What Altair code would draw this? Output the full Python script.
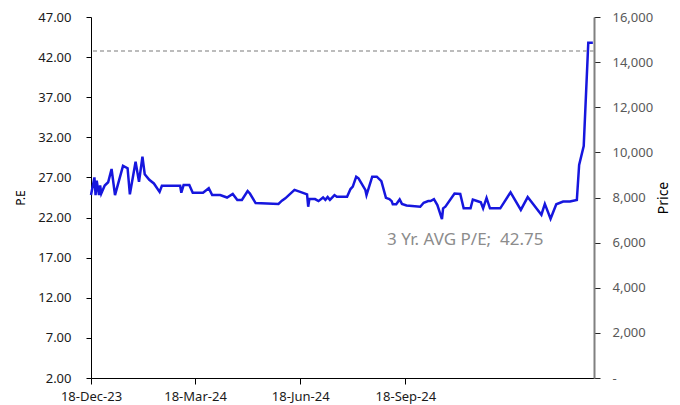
import altair as alt
import pandas as pd

# ---- data ----
dates = [
    "2023-12-18", "2023-12-21", "2023-12-22", "2023-12-23", "2023-12-25", "2023-12-26",
    "2023-12-27", "2023-12-30", "2024-01-02", "2024-01-05", "2024-01-08", "2024-01-15",
    "2024-01-19", "2024-01-21", "2024-01-26", "2024-01-29", "2024-02-01", "2024-02-03",
    "2024-02-07", "2024-02-11", "2024-02-16", "2024-02-18", "2024-03-05", "2024-03-06",
    "2024-03-08", "2024-03-13", "2024-03-16", "2024-03-25", "2024-03-30", "2024-04-02",
    "2024-04-09", "2024-04-15", "2024-04-20", "2024-04-24", "2024-04-28", "2024-05-03",
    "2024-05-05", "2024-05-10", "2024-05-30", "2024-06-02", "2024-06-05", "2024-06-13",
    "2024-06-18", "2024-06-24", "2024-06-25", "2024-06-26", "2024-07-01", "2024-07-04",
    "2024-07-08", "2024-07-10", "2024-07-12", "2024-07-14", "2024-07-18", "2024-07-20",
    "2024-07-29", "2024-08-01", "2024-08-03", "2024-08-06", "2024-08-08", "2024-08-14",
    "2024-08-15", "2024-08-20", "2024-08-24", "2024-08-28", "2024-09-01", "2024-09-04",
    "2024-09-06", "2024-09-07", "2024-09-10", "2024-09-13", "2024-09-15", "2024-09-19",
    "2024-10-01", "2024-10-04", "2024-10-08", "2024-10-10", "2024-10-13", "2024-10-16",
    "2024-10-20", "2024-10-21", "2024-10-23", "2024-10-31", "2024-11-05", "2024-11-08",
    "2024-11-14", "2024-11-16", "2024-11-19", "2024-11-23", "2024-11-25", "2024-11-28",
    "2024-12-01", "2024-12-10", "2024-12-19", "2024-12-28", "2025-01-03", "2025-01-15",
    "2025-01-18", "2025-01-23", "2025-01-28", "2025-02-03", "2025-02-09", "2025-02-15",
    "2025-02-17", "2025-02-21", "2025-02-25", "2025-03-01",
]
pe = [
    24.8, 27.0, 24.8, 26.6, 24.8, 26.0,
    25.0, 26.0, 26.4, 28.05, 24.8, 28.45,
    28.15, 24.9, 28.95, 26.45, 29.6, 27.4,
    26.7, 26.25, 25.2, 25.95, 25.95, 25.1,
    26.05, 26.05, 25.1, 25.1, 25.65, 24.8,
    24.8, 24.5, 24.95, 24.2, 24.2, 25.3,
    25.0, 23.8, 23.7, 24.1, 24.4, 25.45,
    25.2, 24.9, 23.35, 24.3, 24.3, 24.05,
    24.5, 24.2, 24.55, 24.2, 24.8, 24.6,
    24.6, 25.55, 25.85, 27.1, 26.9, 25.45,
    24.8, 27.1, 27.1, 26.55, 24.45, 24.3,
    24.05, 23.65, 23.65, 24.25, 23.7, 23.5,
    23.35, 23.85, 24.05, 24.05, 24.3, 23.55,
    21.8, 23.15, 23.35, 25.0, 24.95, 23.15,
    23.15, 24.25, 24.1, 23.9, 23.15, 24.45,
    23.15, 23.15, 25.15, 22.95, 24.55, 22.35,
    23.7, 21.85, 23.65, 24.0, 24.0, 24.2,
    28.55, 30.9, 43.8, 43.8,
]
AVG_PE = 42.75
annotation = "3 Yr. AVG P/E;\u00a0\u00a042.75"
pe_ticks = [2, 7, 12, 17, 22, 27, 32, 37, 42, 47]
price_ticks = [0, 2000, 4000, 6000, 8000, 10000, 12000, 14000, 16000]
x_tick_dates = ["2023-12-18", "2024-03-18", "2024-06-18", "2024-09-18"]
x_domain = ["2023-12-18", "2025-03-02"]


def ms(s):
    return int(pd.Timestamp(s, tz="UTC").value // 10**6)


df = pd.DataFrame({"date": dates, "pe": pe})
one = pd.DataFrame({"avg": [AVG_PE], "label": [annotation]})

FONT = "Noto Sans"

x_enc = alt.X(
    "date:T",
    scale=alt.Scale(type="utc", domain=[ms(d) for d in x_domain], nice=False),
    axis=alt.Axis(
        values=[ms(d) for d in x_tick_dates],
        labelExpr="utcFormat(datum.value, '%d-%b-%y')",
        title=None, grid=False, tickSize=6, tickColor="#000000",
        domainColor="#000000", labelFont=FONT, labelFontSize=13,
        labelColor="#1a1a1a", labelPadding=6, labelFlush=False, labelOverlap=False,
    ),
)

line = alt.Chart(df).mark_line(color="#1616DE", strokeWidth=2.5).encode(
    x=x_enc,
    y=alt.Y(
        "pe:Q",
        scale=alt.Scale(domain=[2, 47], nice=False, zero=False),
        axis=alt.Axis(
            values=pe_ticks, format=".2f", title="P.E", grid=False,
            tickSize=5, tickColor="#000000", domainColor="#000000",
            labelFont=FONT, labelFontSize=13, labelColor="#1a1a1a", labelPadding=15,
            titleFont=FONT, titleFontSize=12, titleFontWeight="normal",
            titleColor="#000000", titleAngle=270, titleX=-71, titleY=180.5,
            titleBaseline="middle", titleAlign="center",
        ),
    ),
)

avg_rule = alt.Chart(one).mark_rule(
    color="#a6a6a6", strokeDash=[4, 3], strokeWidth=1.5
).encode(y=alt.Y("avg:Q"))

note = alt.Chart(one).mark_text(
    font=FONT, fontSize=17, color="#8c8c8c", align="left", baseline="middle",
).encode(text="label:N", x=alt.value(296), y=alt.value(223))

left = alt.layer(line, avg_rule, note)

price = alt.Chart(one).mark_point(opacity=0).encode(
    y=alt.YDatum(
        0,
        scale=alt.Scale(domain=[0, 16000], nice=False),
        axis=alt.Axis(
            orient="right", values=price_ticks, title="Price", grid=False,
            labelExpr="datum.value == 0 ? '-' : format(datum.value, ',')",
            tickSize=6, tickColor="#262626", domainColor="#808080", domainWidth=2,
            labelFont=FONT, labelFontSize=13, labelColor="#595959", labelPadding=12,
            titleFont=FONT, titleFontSize=14, titleFontWeight="normal",
            titleColor="#000000", titleAngle=270, titleX=69, titleY=180.5,
            titleBaseline="middle", titleAlign="center",
        ),
    ),
)

chart = (
    alt.layer(left, price)
    .resolve_scale(y="independent")
    .properties(
        width=503, height=361,
        autosize=alt.AutoSizeParams(type="none"),
        padding={"left": 83, "top": 9, "right": 78, "bottom": 27},
        background="#ffffff",
    )
    .configure_view(stroke=None)
)

chart.save("out.html", embed_options={"renderer": "svg", "actions": False})
